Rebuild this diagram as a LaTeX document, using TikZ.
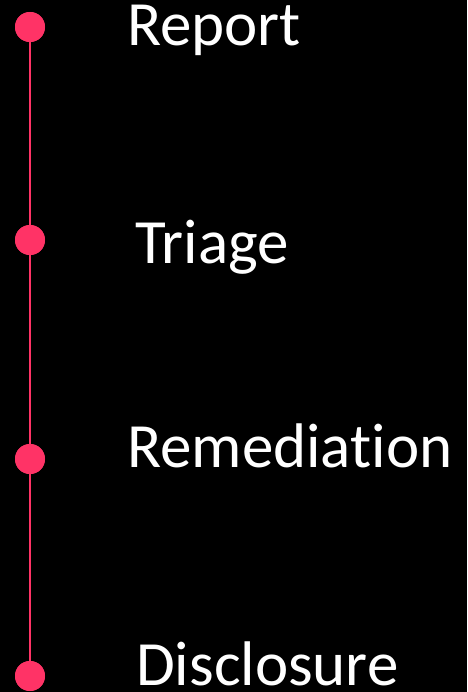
\documentclass[tikz,border=0pt]{standalone}
\usepackage{fontspec}
\setmainfont[Ligatures=NoCommon]{Carlito}
\definecolor{dotpink}{RGB}{255,51,102}
\tikzset{
  stepdot/.style={circle, fill=dotpink, minimum size=30pt, inner sep=0pt},
  steplabel/.style={anchor=base west, inner sep=0pt, text=white, font=\fontsize{63}{75}\selectfont},
}
\begin{document}
\begin{tikzpicture}[x=1pt, y=-1pt]
    % Background
    \fill[black] (0,0) rectangle (467,692);
    \useasboundingbox (0,0) rectangle (467,692);

    % Timeline dots
    \node[stepdot] (d1) at (30, 27) {};
    \node[stepdot] (d2) at (30, 240) {};
    \node[stepdot] (d3) at (30, 459) {};
    \node[stepdot] (d4) at (30, 676) {};

    % Vertical line
    \draw[dotpink, line width=1.6pt] (d1.center) -- (d2.center) -- (d3.center) -- (d4.center);
    \foreach \i in {1,...,4} \node[stepdot] at (d\i) {};

    % Labels
    \node[steplabel] (l1) at (127, 46) {Report};
    \node[steplabel] (l2) at (135, 263) {Triage};
    \node[steplabel] (l3) at (127, 467) {Remediation};
    \node[steplabel] (l4) at (136, 685) {Disclosure};
\end{tikzpicture}
\end{document}
